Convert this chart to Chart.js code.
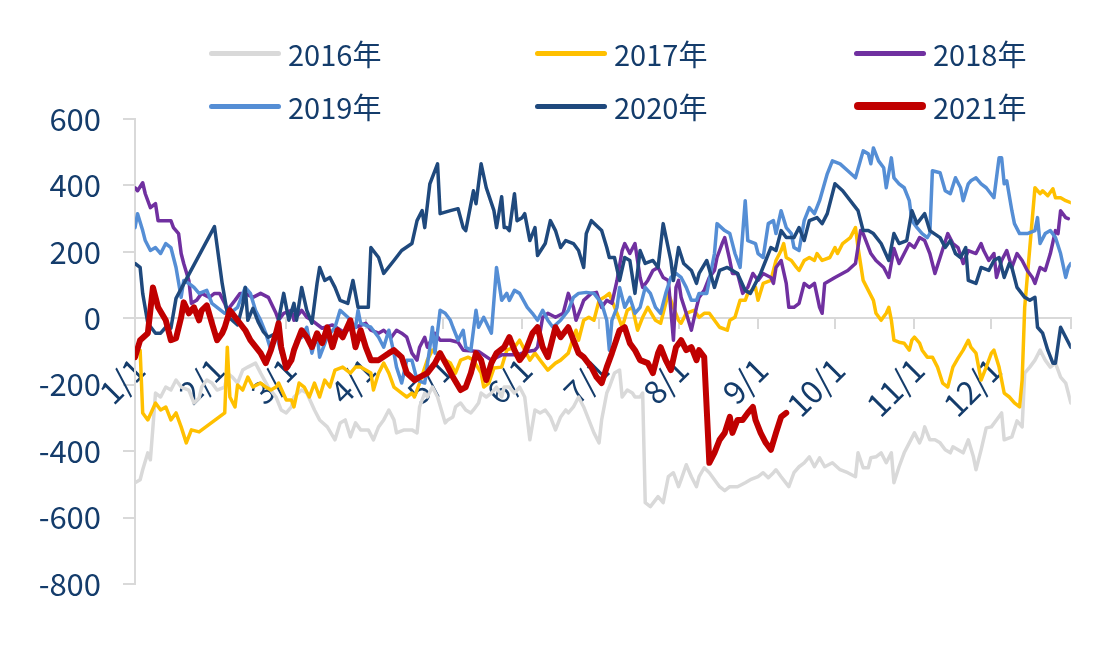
<!DOCTYPE html>
<html><head><meta charset="utf-8">
<script src="https://cdn.jsdelivr.net/npm/chart.js@4.4.0/dist/chart.umd.min.js"></script>
<style>
html,body{margin:0;padding:0;background:#fff;}
#wrap{position:relative;width:1120px;height:667px;}
canvas{position:absolute;left:0;top:0;}
.leg{position:absolute;display:flex;align-items:center;height:32px;font-family:"Noto Sans CJK SC","Noto Sans",sans-serif;font-size:29px;line-height:1;color:#143C6B;white-space:nowrap;}
.leg i{display:inline-block;width:72px;border-radius:4px;margin-right:7px;}
</style></head><body>
<div id="wrap"><canvas id="c" width="1120" height="667"></canvas><div id="legend"></div></div>
<script>
// Day-of-year tick positions and labels
const monthStarts = [0,31,59,90,120,151,181,212,243,273,304,334,365];
const monthLabels = ['1/1','2/1','3/1','4/1','5/1','6/1','7/1','8/1','9/1','10/1','11/1','12/1',''];
const yTicks = [-800,-600,-400,-200,0,200,400,600];
const seriesNames = ['2016年','2017年','2018年','2019年','2020年','2021年'];

// [day of year, value]
const s2016 = [[0,-495],[2,-486],[3,-456],[5,-405],[6,-426],[7,-327],[8,-225],[10,-237],[12,-207],[14,-216],[16,-186],[18,-207],[21,-216],[23,-255],[25,-240],[26,-207],[28,-186],[30,-195],[32,-216],[35,-207],[36,-165],[38,-177],[40,-195],[42,-156],[44,-147],[47,-135],[49,-165],[52,-207],[55,-237],[57,-276],[59,-285],[61,-267],[62,-237],[65,-216],[67,-225],[70,-276],[72,-306],[75,-327],[78,-366],[80,-315],[82,-306],[84,-357],[86,-315],[88,-336],[91,-336],[93,-366],[95,-327],[97,-306],[99,-276],[101,-306],[102,-345],[105,-336],[108,-336],[110,-345],[111,-267],[113,-225],[114,-237],[116,-207],[118,-237],[121,-315],[122,-306],[124,-297],[125,-267],[127,-255],[129,-276],[131,-285],[132,-276],[134,-255],[135,-225],[137,-237],[139,-225],[141,-207],[143,-237],[144,-207],[146,-207],[148,-225],[150,-207],[152,-237],[154,-366],[156,-276],[158,-285],[160,-276],[162,-297],[164,-336],[166,-297],[168,-276],[169,-285],[171,-267],[173,-237],[175,-267],[177,-306],[179,-345],[181,-375],[182,-306],[184,-225],[185,-207],[187,-165],[189,-156],[190,-237],[192,-216],[194,-225],[195,-237],[197,-237],[198,-225],[199,-555],[201,-567],[204,-537],[206,-555],[208,-477],[210,-465],[212,-507],[213,-486],[215,-441],[217,-477],[219,-507],[220,-477],[222,-450],[224,-465],[226,-486],[228,-507],[230,-519],[232,-507],[235,-507],[238,-495],[240,-486],[243,-477],[245,-465],[247,-480],[249,-465],[250,-456],[252,-477],[255,-507],[257,-465],[259,-447],[261,-435],[263,-417],[265,-447],[267,-420],[269,-447],[272,-435],[275,-456],[278,-465],[281,-477],[282,-405],[284,-450],[286,-450],[287,-420],[289,-417],[291,-405],[293,-435],[295,-405],[296,-495],[298,-447],[300,-405],[302,-375],[304,-345],[306,-375],[307,-357],[308,-327],[310,-366],[312,-366],[314,-375],[316,-396],[318,-405],[319,-387],[321,-396],[323,-405],[325,-366],[327,-417],[328,-456],[330,-396],[332,-330],[334,-327],[336,-306],[338,-285],[339,-366],[342,-357],[344,-309],[346,-327],[347,-165],[349,-147],[351,-126],[353,-96],[355,-126],[357,-147],[359,-135],[361,-177],[363,-195],[364,-225],[365,-255]];

const s2017 = [[2,-96],[3,-285],[5,-306],[8,-255],[10,-276],[12,-267],[14,-306],[16,-285],[18,-327],[20,-375],[22,-336],[25,-342],[35,-285],[36,-87],[37,-237],[39,-267],[40,-201],[42,-216],[44,-177],[46,-207],[49,-195],[51,-207],[53,-216],[55,-207],[56,-195],[59,-246],[61,-246],[62,-267],[64,-195],[66,-207],[68,-237],[70,-195],[72,-237],[74,-186],[76,-207],[78,-156],[81,-147],[84,-165],[86,-147],[88,-147],[90,-156],[92,-165],[93,-216],[95,-165],[97,-135],[99,-165],[101,-207],[104,-225],[106,-237],[108,-225],[109,-237],[111,-195],[114,-126],[116,-96],[118,-105],[121,-126],[123,-135],[125,-165],[127,-126],[130,-117],[132,-126],[135,-165],[136,-207],[138,-195],[140,-150],[143,-147],[145,-96],[148,-87],[150,-66],[152,-96],[154,-126],[156,-105],[158,-126],[161,-156],[164,-135],[166,-126],[169,-105],[171,-57],[172,-36],[173,-66],[175,-6],[177,3],[179,-6],[181,54],[183,63],[185,75],[186,54],[188,15],[190,-27],[192,24],[194,33],[196,-36],[198,3],[200,33],[203,-6],[205,-15],[208,75],[210,33],[212,-6],[213,-15],[215,15],[218,24],[220,3],[222,15],[224,15],[226,-6],[228,-27],[231,-36],[232,-6],[234,3],[236,54],[238,54],[239,75],[242,93],[243,54],[245,105],[248,114],[250,174],[252,204],[253,225],[254,183],[256,174],[258,153],[259,144],[261,174],[263,183],[265,174],[266,195],[268,174],[271,183],[273,213],[274,195],[276,225],[279,243],[281,273],[282,213],[284,114],[286,84],[288,54],[289,15],[291,-6],[293,15],[294,33],[295,-6],[296,-66],[298,-72],[300,-75],[302,-96],[303,-66],[304,-57],[306,-75],[307,-96],[309,-117],[311,-117],[313,-147],[315,-195],[317,-207],[319,-147],[321,-120],[323,-96],[325,-66],[326,-87],[328,-105],[330,-186],[332,-147],[334,-105],[335,-96],[337,-147],[339,-225],[341,-237],[343,-255],[345,-267],[346,-186],[347,33],[349,213],[351,393],[353,375],[354,384],[356,369],[358,390],[359,363],[361,363],[363,354],[365,348]];

const s2018 = [[0,393],[1,384],[3,408],[4,375],[6,333],[8,345],[9,294],[12,294],[14,294],[15,273],[17,255],[18,195],[19,165],[21,114],[22,45],[24,54],[26,75],[29,63],[31,75],[33,75],[35,45],[36,24],[39,54],[41,75],[43,75],[46,63],[49,75],[52,63],[55,15],[56,-6],[58,15],[61,24],[62,-6],[65,24],[67,3],[69,-6],[73,-30],[77,-20],[81,-40],[86,-27],[90,-15],[92,-36],[95,-45],[97,-36],[100,-57],[102,-36],[104,-45],[106,-57],[108,-105],[110,-126],[111,-87],[113,-57],[114,-87],[117,-45],[119,-66],[121,-66],[123,-66],[126,-72],[128,-96],[134,-100],[139,-126],[143,-110],[149,-110],[153,-100],[156,-96],[157,-87],[159,3],[161,15],[164,3],[167,15],[169,75],[171,33],[172,-6],[174,33],[175,54],[178,75],[180,78],[182,33],[184,54],[186,45],[188,114],[190,204],[191,225],[193,195],[195,225],[197,123],[198,93],[200,114],[202,144],[204,153],[206,123],[208,114],[210,-66],[211,93],[212,114],[213,63],[215,15],[217,-36],[219,33],[220,63],[222,84],[224,123],[226,144],[227,183],[229,225],[230,243],[232,174],[233,135],[235,135],[237,75],[239,93],[241,135],[243,114],[245,135],[248,123],[249,105],[250,153],[252,174],[254,105],[255,33],[257,33],[259,45],[261,105],[263,93],[265,105],[267,33],[268,15],[269,105],[273,123],[278,144],[281,165],[283,264],[284,255],[287,195],[289,174],[292,153],[294,123],[296,210],[298,165],[300,195],[302,225],[304,213],[306,243],[308,234],[310,195],[312,135],[314,183],[317,255],[319,225],[321,213],[323,165],[325,204],[328,195],[330,225],[331,204],[333,174],[335,195],[336,123],[338,174],[340,204],[342,153],[344,195],[346,174],[348,144],[350,123],[351,105],[353,153],[355,144],[357,195],[359,264],[360,255],[361,324],[363,303],[364,300]];

const s2019 = [[0,273],[1,315],[3,264],[4,234],[6,204],[8,213],[10,195],[12,225],[14,213],[16,153],[18,63],[19,114],[21,105],[23,93],[25,75],[28,84],[30,45],[32,33],[35,15],[37,15],[40,33],[43,93],[45,75],[47,24],[49,-6],[51,-45],[53,-96],[55,-45],[57,-105],[60,-147],[62,-96],[63,-66],[65,-57],[67,-27],[69,-105],[71,-45],[72,-117],[75,-57],[78,-27],[80,24],[83,3],[86,-27],[87,24],[88,-15],[90,-21],[92,-27],[95,-57],[97,-87],[99,-36],[101,-105],[102,-147],[104,-195],[106,-126],[108,-126],[110,-186],[113,-195],[115,-87],[116,-27],[117,-105],[119,24],[121,15],[123,-6],[124,-27],[126,-66],[128,-36],[129,-87],[131,-96],[133,24],[134,-27],[136,3],[139,-45],[141,153],[143,54],[145,75],[146,54],[148,84],[150,75],[153,33],[155,15],[157,-6],[159,24],[161,-6],[163,-27],[166,-6],[169,24],[171,63],[173,75],[176,78],[179,75],[182,45],[184,-6],[185,-96],[186,-6],[188,33],[189,93],[191,33],[193,63],[195,15],[197,33],[199,93],[201,75],[203,33],[205,15],[207,75],[209,123],[211,135],[213,123],[215,93],[217,54],[219,54],[220,75],[223,75],[226,195],[227,285],[230,264],[232,255],[234,195],[236,153],[238,354],[239,234],[242,225],[243,195],[245,183],[247,285],[249,294],[250,255],[252,324],[254,273],[256,255],[257,213],[259,204],[261,294],[263,333],[265,315],[267,354],[270,435],[272,474],[275,465],[278,444],[281,423],[284,504],[286,495],[287,465],[288,513],[290,474],[292,453],[293,393],[295,483],[296,423],[298,405],[300,393],[302,354],[303,294],[305,273],[307,255],[309,243],[310,255],[311,444],[314,438],[316,384],[318,375],[320,423],[322,393],[323,354],[325,405],[326,414],[328,423],[330,405],[332,393],[335,363],[337,483],[338,483],[339,405],[340,414],[342,324],[343,285],[345,255],[348,255],[351,264],[352,303],[353,225],[355,255],[357,264],[359,243],[361,195],[363,123],[364,153],[365,165]];

const s2020 = [[0,165],[2,153],[3,75],[5,-15],[8,-45],[10,-45],[12,-27],[14,-30],[16,60],[31,276],[34,105],[36,15],[37,0],[40,-20],[42,40],[43,93],[44,-6],[46,30],[48,-10],[50,-40],[52,-57],[55,-45],[58,75],[60,-6],[62,45],[63,-6],[65,93],[67,24],[69,-15],[71,105],[72,153],[74,114],[76,123],[78,93],[80,54],[83,45],[85,114],[87,33],[91,33],[92,213],[95,183],[97,135],[101,174],[104,204],[108,225],[110,294],[112,324],[113,273],[115,405],[118,465],[119,315],[123,324],[126,330],[128,273],[129,264],[132,384],[133,345],[135,465],[137,393],[140,324],[141,273],[143,366],[144,273],[145,273],[146,264],[148,375],[149,294],[151,303],[152,315],[154,234],[156,273],[157,189],[160,225],[162,294],[164,264],[166,213],[168,234],[171,225],[173,204],[175,153],[176,255],[178,294],[182,264],[184,213],[185,183],[187,183],[189,114],[191,183],[193,174],[195,75],[197,204],[199,165],[202,174],[204,153],[206,285],[209,174],[210,114],[212,213],[214,165],[217,144],[219,105],[220,135],[223,174],[226,93],[228,144],[231,153],[235,135],[238,84],[240,75],[242,105],[244,135],[246,174],[248,213],[250,204],[252,264],[254,243],[257,243],[259,273],[261,234],[263,294],[266,303],[268,285],[270,315],[273,405],[276,384],[282,324],[284,264],[286,264],[288,255],[291,225],[294,174],[296,255],[298,225],[301,234],[303,324],[305,285],[308,315],[310,264],[314,243],[316,213],[318,234],[320,195],[322,183],[324,213],[325,114],[328,105],[330,153],[333,144],[335,174],[337,183],[339,123],[341,165],[342,153],[344,93],[347,63],[349,54],[351,63],[352,-27],[354,-45],[356,-96],[358,-135],[359,-135],[361,-27],[363,-57],[365,-87]];

const s2021 = [[0,-117],[2,-66],[5,-45],[7,93],[9,33],[12,-6],[14,-66],[16,-60],[18,3],[19,48],[21,15],[23,33],[25,-6],[26,24],[28,39],[30,-15],[32,-66],[34,-45],[35,-27],[37,24],[40,-6],[43,-36],[45,-66],[49,-105],[51,-135],[53,-96],[55,-45],[56,-15],[57,-87],[59,-150],[61,-126],[62,-96],[65,-36],[67,-57],[69,-87],[71,-45],[73,-75],[75,-27],[77,-87],[79,-36],[81,-57],[84,-6],[86,-87],[88,-36],[90,-87],[92,-126],[95,-126],[99,-105],[101,-96],[104,-117],[106,-165],[109,-186],[111,-177],[114,-165],[117,-135],[119,-105],[122,-147],[124,-177],[127,-216],[129,-207],[131,-165],[133,-105],[135,-126],[137,-186],[139,-135],[141,-105],[144,-87],[146,-57],[148,-96],[150,-126],[152,-105],[155,-45],[157,-27],[159,-87],[161,-117],[164,-27],[166,-57],[169,-27],[171,-66],[173,-105],[175,-117],[178,-147],[180,-177],[182,-195],[184,-147],[186,-105],[189,-36],[191,-27],[193,-75],[195,-96],[197,-126],[200,-135],[202,-165],[204,-105],[205,-87],[207,-126],[209,-156],[211,-87],[213,-66],[215,-96],[217,-87],[219,-126],[220,-96],[222,-117],[224,-435],[226,-405],[228,-366],[230,-345],[232,-297],[233,-345],[235,-306],[237,-306],[239,-285],[241,-267],[242,-306],[244,-345],[246,-375],[248,-396],[250,-345],[252,-297],[254,-285]];

const seriesData = [s2016, s2017, s2018, s2019, s2020, s2021];
const seriesColors = ['#D9D9D9','#FFC000','#7030A0','#558ED5','#1F497D','#C00000'];
const seriesWidths = [3.5,3.5,3.5,3.5,3.5,6];
const legendWidths = [5,5,5,5,5,8];

const FONT = "'Noto Sans CJK SC','Noto Sans',sans-serif";
const TXT = '#143C6B';
const AXIS = '#D9D9D9';

// HTML legend (3 columns x 2 rows)
const legCols = [209, 535, 854];
const legRows = [53, 106];
const legEl = document.getElementById('legend');
seriesNames.forEach((name, i) => {
  const d = document.createElement('div');
  d.className = 'leg';
  d.style.left = legCols[i % 3] + 'px';
  d.style.top = (legRows[Math.floor(i / 3)] - 16) + 'px';
  const sw = document.createElement('i');
  sw.style.height = legendWidths[i] + 'px';
  sw.style.background = seriesColors[i];
  d.appendChild(sw);
  d.appendChild(document.createTextNode(name));
  legEl.appendChild(d);
});

const datasets = seriesData.map((arr, i) => ({
  label: seriesNames[i],
  data: arr.map(p => ({x: p[0], y: p[1]})),
  borderColor: seriesColors[i],
  backgroundColor: seriesColors[i],
  borderWidth: seriesWidths[i],
  pointRadius: 0,
  tension: 0,
  fill: false,
  borderJoinStyle: 'round',
  borderCapStyle: 'round',
  order: seriesData.length - i
}));

new Chart(document.getElementById('c'), {
  type: 'line',
  data: { datasets },
  options: {
    responsive: false,
    animation: false,
    events: [],
    layout: { padding: { top: 119, right: 45, bottom: 83, left: 0 } },
    plugins: { legend: { display: false }, tooltip: { enabled: false } },
    scales: {
      x: {
        type: 'linear', min: 0, max: 365,
        position: { y: 0 },
        afterBuildTicks: s => { s.ticks = monthStarts.map(v => ({ value: v })); },
        grid: { drawOnChartArea: false, drawTicks: true, tickLength: 10, color: AXIS, lineWidth: 2 },
        border: { display: true, color: AXIS, width: 2 },
        ticks: {
          autoSkip: false, minRotation: 45, maxRotation: 45, padding: 22, labelOffset: 4,
          color: TXT, font: { family: FONT, size: 32 },
          callback: (v, i) => monthLabels[i] ?? ''
        }
      },
      y: {
        min: yTicks[0], max: yTicks[yTicks.length - 1],
        afterFit: s => { s.width = 135; },
        afterBuildTicks: s => { s.ticks = yTicks.map(v => ({ value: v })); },
        grid: { drawOnChartArea: false, drawTicks: true, tickLength: 12, color: AXIS, lineWidth: 2 },
        border: { display: true, color: AXIS, width: 2 },
        ticks: { padding: 22, color: TXT, font: { family: FONT, size: 31 } }
      }
    }
  }
});
</script>
</body></html>
